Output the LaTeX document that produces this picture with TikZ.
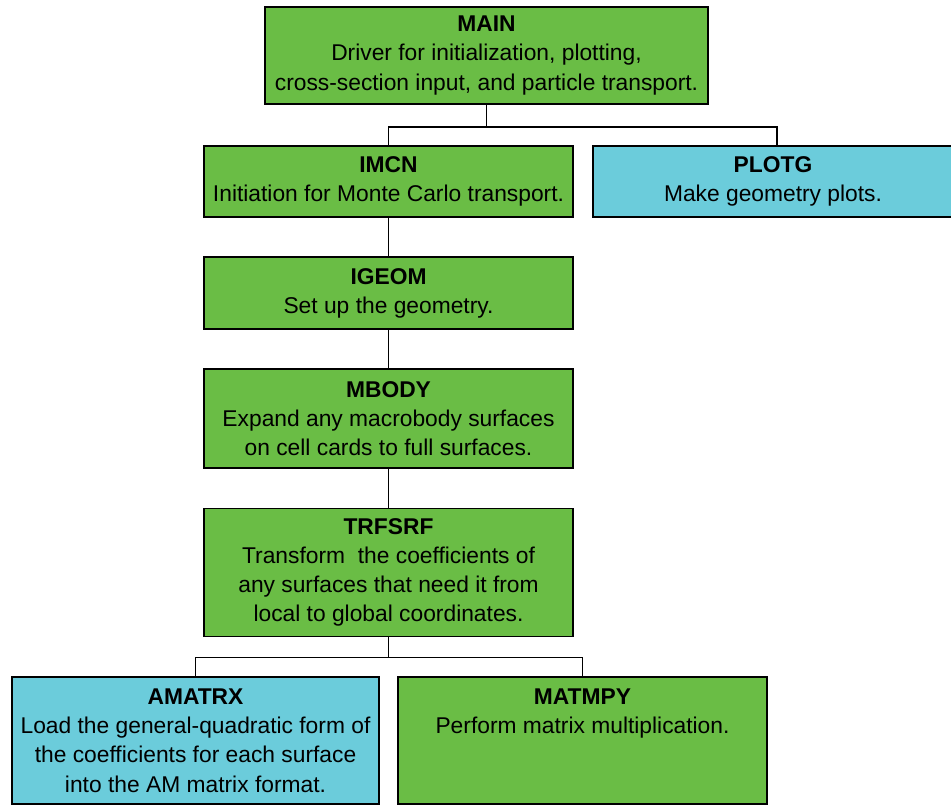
\documentclass[tikz,border=0pt]{standalone}
\usepackage{fontspec}
\setmainfont{Liberation Sans}
\definecolor{boxgreen}{RGB}{106,189,69}
\definecolor{boxcyan}{RGB}{107,204,219}
\begin{document}
\begin{tikzpicture}[x=0.5pt,y=-0.5pt,
  blk/.style={draw,line width=0.75pt,align=center,inner sep=0pt,
    font=\fontsize{11.4}{14.6}\selectfont},
  grn/.style={blk,fill=boxgreen},
  cyn/.style={blk,fill=boxcyan},
  wire/.style={line width=0.75pt}]
\useasboundingbox (0,0) rectangle (951,805);
\node[grn,minimum width=221.5pt,minimum height=48.5pt] (main) at (486.5,55.5)
  {\textbf{MAIN}\\Driver for initialization, plotting,\\cross-section input, and particle transport.};
\node[grn,minimum width=184.5pt,minimum height=35.5pt] (imcn) at (388.5,181.5)
  {\textbf{IMCN}\\Initiation for Monte Carlo transport.};
\node[cyn,minimum width=180pt,minimum height=35.5pt] (plotg) at (773,181.5)
  {\textbf{PLOTG}\\Make geometry plots.};
\node[grn,minimum width=184.5pt,minimum height=36pt] (igeom) at (388.5,293)
  {\textbf{IGEOM}\\Set up the geometry.};
\node[grn,minimum width=184.5pt,minimum height=49.5pt] (mbody) at (388.5,418.5)
  {\textbf{MBODY}\\Expand any macrobody surfaces\\on cell cards to full surfaces.};
\node[grn,minimum width=184.5pt,minimum height=64pt] (trfsrf) at (388.5,572.5)
  {\textbf{TRFSRF}\\Transform\ \ the coefficients of\\any surfaces that need it from\\local to global coordinates.};
\node[cyn,minimum width=183.5pt,minimum height=63.5pt] (amatrx) at (195.5,740.5)
  {\textbf{AMATRX}\\Load the general-quadratic form of\\the coefficients for each surface\\into the AM matrix format.};
\node[grn,minimum width=184.5pt,minimum height=63.5pt] (matmpy) at (582.5,740.5)
  {\textbf{MATMPY}\\Perform matrix multiplication.\\~\\~};
\coordinate (plotgin) at (777,146);
\draw[wire] (main.south) -- ++(0,22) -| (imcn.north);
\draw[wire] (main.south) -- ++(0,22) -| (plotgin);
\draw[wire] (imcn) -- (igeom);
\draw[wire] (igeom) -- (mbody);
\draw[wire] (mbody) -- (trfsrf);
\draw[wire] (trfsrf.south) -- ++(0,20) -| (amatrx.north);
\draw[wire] (trfsrf.south) -- ++(0,20) -| (matmpy.north);
\end{tikzpicture}
\end{document}
